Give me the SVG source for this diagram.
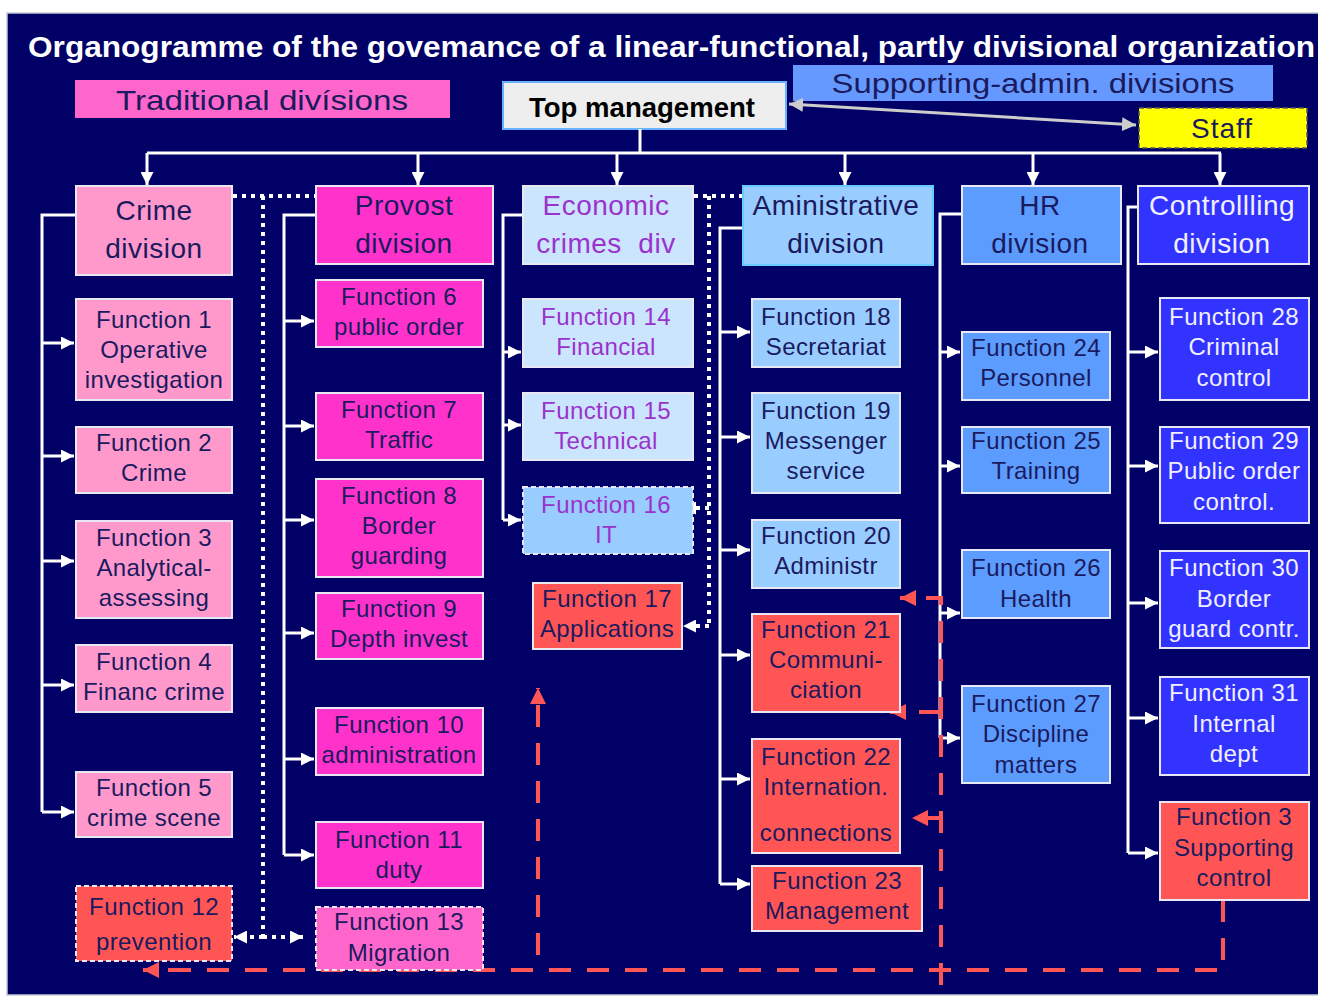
<svg xmlns="http://www.w3.org/2000/svg" width="1318" height="998" viewBox="0 0 1318 998">
<defs>
<style>
.bx{stroke:#E8E8F4;stroke-width:2}
.ds{stroke-dasharray:5 3}
.t{font-family:"Liberation Sans",Arial,sans-serif;font-size:24px;letter-spacing:0.4px;text-anchor:middle;fill:#1a1a5e}
.d{font-size:28px;letter-spacing:0.5px}
.w{fill:#F0F0FF}
.p{fill:#9933CC}
.h{font-family:"Liberation Sans",Arial,sans-serif;font-size:28px;text-anchor:middle;fill:#1a1a5e}
.c{stroke:#fff;stroke-width:3;fill:none}
.ca{stroke:#fff;stroke-width:3;fill:none;marker-end:url(#aw)}
.dot{stroke:#fff;stroke-width:4;stroke-dasharray:4 5;fill:none}
.dota{stroke:#fff;stroke-width:4;stroke-dasharray:4 5;fill:none;marker-end:url(#aw)}
.red{stroke:#FF5555;stroke-width:4;stroke-dasharray:22 16;fill:none}
.reda{stroke:#FF5555;stroke-width:4;stroke-dasharray:22 16;fill:none;marker-end:url(#ar)}
.pink{fill:#FF99CC}.mag{fill:#FF33CC}.mag2{fill:#FF66CC}.lb{fill:#CCE5FF}.mb{fill:#99CCFF}.rd{fill:#FF5555}.hb{fill:#5C9CFF}.cb{fill:#3333FF}
</style>
<marker id="aw" viewBox="0 0 10 10" refX="10" refY="5" markerWidth="13" markerHeight="13" markerUnits="userSpaceOnUse" orient="auto"><path d="M0,0 L10,5 L0,10 z" fill="#fff"/></marker>
<marker id="ar" viewBox="0 0 10 10" refX="10" refY="5" markerWidth="16" markerHeight="16" markerUnits="userSpaceOnUse" orient="auto"><path d="M0,0 L10,5 L0,10 z" fill="#FF5555"/></marker>
<marker id="ag" viewBox="0 0 10 10" refX="10" refY="5" markerWidth="14" markerHeight="14" markerUnits="userSpaceOnUse" orient="auto-start-reverse"><path d="M0,0 L10,5 L0,10 z" fill="#CCCCCC"/></marker>
</defs>
<rect x="0" y="0" width="1318" height="998" fill="#ffffff"/>
<rect x="7" y="13" width="1312" height="982" fill="#000066" stroke="#C8C8D8" stroke-width="1.5"/>
<text x="28" y="57" textLength="1287" lengthAdjust="spacingAndGlyphs" font-family="Liberation Sans, Arial, sans-serif" font-weight="bold" font-size="29" fill="#ffffff">Organogramme of the govemance of a linear-functional, partly divisional organization</text>

<g id="legend-traditional"><rect x="75" y="80" width="375" height="38" fill="#FF66CC"/><text class="h" x="262" y="110" textLength="292" lengthAdjust="spacingAndGlyphs">Traditional divísions</text></g>
<g id="legend-supporting"><rect x="793" y="65" width="480" height="36" fill="#6699FF"/><text class="h" x="1033" y="93" textLength="403" lengthAdjust="spacingAndGlyphs">Supporting-admin. divisions</text></g>
<g id="top-management"><rect x="503" y="82" width="283" height="47" fill="#EEEEEE" stroke="#66B2FF" stroke-width="2"/><text class="h" x="642" y="117" font-weight="bold" fill="#000" style="fill:#000" textLength="226" lengthAdjust="spacingAndGlyphs">Top management</text></g>
<g id="staff"><rect x="1139" y="108" width="168" height="40" fill="#FFFF00" stroke="#555" stroke-width="1.5" stroke-dasharray="5 3"/><text class="h" x="1222" y="138" letter-spacing="1">Staff</text></g>

<g id="connectors">
<path d="M789,104 L1136,125" stroke="#CCCCCC" stroke-width="3" fill="none" marker-start="url(#ag)" marker-end="url(#ag)"/>
<path class="c" d="M640,129 V153 M147,153 H1221"/>
<path class="ca" d="M147,153 V185"/><path class="ca" d="M418,153 V185"/><path class="ca" d="M617,153 V185"/><path class="ca" d="M845,153 V185"/><path class="ca" d="M1033,153 V185"/><path class="ca" d="M1220,153 V185"/>
<path class="c" d="M76,215 H42 V812"/>
<path class="ca" d="M42,343 H74"/><path class="ca" d="M42,456 H74"/><path class="ca" d="M42,561 H74"/><path class="ca" d="M42,685 H74"/><path class="ca" d="M42,812 H74"/>
<path class="c" d="M316,215 H284 V855"/>
<path class="ca" d="M284,321 H314"/><path class="ca" d="M284,426 H314"/><path class="ca" d="M284,520 H314"/><path class="ca" d="M284,633 H314"/><path class="ca" d="M284,759 H314"/><path class="ca" d="M284,855 H314"/>
<path class="c" d="M523,215 H503 V520"/>
<path class="ca" d="M503,352 H521"/><path class="ca" d="M503,425 H521"/><path class="ca" d="M503,520 H521"/>
<path class="c" d="M743,228 H720 V884"/>
<path class="ca" d="M720,332 H750"/><path class="ca" d="M720,437 H750"/><path class="ca" d="M720,550 H750"/><path class="ca" d="M720,655 H750"/><path class="ca" d="M720,779 H750"/><path class="ca" d="M720,884 H750"/>
<path class="c" d="M962,214 H940 V738"/>
<path class="ca" d="M940,352 H960"/><path class="ca" d="M940,466 H960"/><path class="ca" d="M940,613 H960"/><path class="ca" d="M940,738 H960"/>
<path class="c" d="M1138,207 H1128 V853"/>
<path class="ca" d="M1128,352 H1158"/><path class="ca" d="M1128,466 H1158"/><path class="ca" d="M1128,603 H1158"/><path class="ca" d="M1128,718 H1158"/><path class="ca" d="M1128,853 H1158"/>
<path class="dot" d="M233,196 H316 M263,196 V937"/>
<path class="dota" d="M263,937 H234"/><path class="dota" d="M263,937 H303"/>
<path class="dot" d="M694,196 H743 M709,196 V626"/>
<path class="dota" d="M709,508 H683"/><path class="dota" d="M709,626 H683"/>
<path class="red" d="M1223,900 V970 H170"/>
<path class="reda" d="M190,970 H143"/>
<path class="reda" d="M538,955 V688"/>
<path class="reda" d="M941,985 V598 H900"/>
<path class="reda" d="M941,712 H890"/>
<path class="reda" d="M941,818 H912"/>
</g>

<g id="crime-division"><rect class="bx pink" x="76" y="186" width="156" height="89"/><text class="t d" x="154" y="220">Crime</text><text class="t d" x="154" y="258">division</text></g>
<g id="f1"><rect class="bx pink" x="76" y="299" width="156" height="101"/><text class="t" x="154" y="328">Function 1</text><text class="t" x="154" y="358">Operative</text><text class="t" x="154" y="388">investigation</text></g>
<g id="f2"><rect class="bx pink" x="76" y="427" width="156" height="66"/><text class="t" x="154" y="451">Function 2</text><text class="t" x="154" y="481">Crime</text></g>
<g id="f3"><rect class="bx pink" x="76" y="521" width="156" height="97"/><text class="t" x="154" y="546">Function 3</text><text class="t" x="154" y="576">Analytical-</text><text class="t" x="154" y="606">assessing</text></g>
<g id="f4"><rect class="bx pink" x="76" y="645" width="156" height="67"/><text class="t" x="154" y="670">Function 4</text><text class="t" x="154" y="700">Financ crime</text></g>
<g id="f5"><rect class="bx pink" x="76" y="772" width="156" height="65"/><text class="t" x="154" y="796">Function 5</text><text class="t" x="154" y="826">crime scene</text></g>
<g id="f12"><rect class="bx ds rd" x="76" y="886" width="156" height="75"/><text class="t" x="154" y="915">Function 12</text><text class="t" x="154" y="950">prevention</text></g>

<g id="provost-division"><rect class="bx mag" x="316" y="186" width="177" height="78"/><text class="t d" x="404" y="215">Provost</text><text class="t d" x="404" y="253">division</text></g>
<g id="f6"><rect class="bx mag" x="316" y="280" width="167" height="67"/><text class="t" x="399" y="305">Function 6</text><text class="t" x="399" y="335">public order</text></g>
<g id="f7"><rect class="bx mag" x="316" y="393" width="167" height="67"/><text class="t" x="399" y="418">Function 7</text><text class="t" x="399" y="448">Traffic</text></g>
<g id="f8"><rect class="bx mag" x="316" y="479" width="167" height="98"/><text class="t" x="399" y="504">Function 8</text><text class="t" x="399" y="534">Border</text><text class="t" x="399" y="564">guarding</text></g>
<g id="f9"><rect class="bx mag" x="316" y="593" width="167" height="66"/><text class="t" x="399" y="617">Function 9</text><text class="t" x="399" y="647">Depth invest</text></g>
<g id="f10"><rect class="bx mag" x="316" y="708" width="167" height="67"/><text class="t" x="399" y="733">Function 10</text><text class="t" x="399" y="763">administration</text></g>
<g id="f11"><rect class="bx mag" x="316" y="822" width="167" height="66"/><text class="t" x="399" y="848">Function 11</text><text class="t" x="399" y="878">duty</text></g>
<g id="f13"><rect class="bx ds mag2" x="316" y="907" width="167" height="63"/><text class="t" x="399" y="930">Function 13</text><text class="t" x="399" y="961">Migration</text></g>

<g id="economic-division"><rect class="bx lb" x="523" y="186" width="170" height="78"/><text class="t d p" x="606" y="215">Economic</text><text class="t d p" x="606" y="253" xml:space="preserve">crimes  div</text></g>
<g id="f14"><rect class="bx lb" x="523" y="299" width="170" height="68"/><text class="t p" x="606" y="325">Function 14</text><text class="t p" x="606" y="355">Financial</text></g>
<g id="f15"><rect class="bx lb" x="523" y="393" width="170" height="67"/><text class="t p" x="606" y="419">Function 15</text><text class="t p" x="606" y="449">Technical</text></g>
<g id="f16"><rect class="bx ds mb" x="523" y="487" width="170" height="67"/><text class="t p" x="606" y="513">Function 16</text><text class="t p" x="606" y="543">IT</text></g>
<g id="f17"><rect class="bx rd" x="533" y="583" width="149" height="66"/><text class="t" x="607" y="607">Function 17</text><text class="t" x="607" y="637">Applications</text></g>

<g id="administrative-division"><rect class="mb" x="743" y="186" width="190" height="79" stroke="#66CCFF" stroke-width="2"/><text class="t d" x="836" y="215">Aministrative</text><text class="t d" x="836" y="253">division</text></g>
<g id="f18"><rect class="bx mb" x="752" y="299" width="148" height="68"/><text class="t" x="826" y="325">Function 18</text><text class="t" x="826" y="355">Secretariat</text></g>
<g id="f19"><rect class="bx mb" x="752" y="393" width="148" height="100"/><text class="t" x="826" y="419">Function 19</text><text class="t" x="826" y="449">Messenger</text><text class="t" x="826" y="479">service</text></g>
<g id="f20"><rect class="bx mb" x="752" y="520" width="148" height="68"/><text class="t" x="826" y="544">Function 20</text><text class="t" x="826" y="574">Administr</text></g>
<g id="f21"><rect class="bx rd" x="752" y="614" width="148" height="98"/><text class="t" x="826" y="638">Function 21</text><text class="t" x="826" y="668">Communi-</text><text class="t" x="826" y="698">ciation</text></g>
<g id="f22"><rect class="bx rd" x="752" y="739" width="148" height="114"/><text class="t" x="826" y="765">Function 22</text><text class="t" x="826" y="795">Internation.</text><text class="t" x="826" y="841">connections</text></g>
<g id="f23"><rect class="bx rd" x="752" y="866" width="170" height="65"/><text class="t" x="837" y="889">Function 23</text><text class="t" x="837" y="919">Management</text></g>

<g id="hr-division"><rect class="bx hb" x="962" y="186" width="159" height="78"/><text class="t d" x="1040" y="215">HR</text><text class="t d" x="1040" y="253">division</text></g>
<g id="f24"><rect class="bx hb" x="962" y="332" width="148" height="68"/><text class="t" x="1036" y="356">Function 24</text><text class="t" x="1036" y="386">Personnel</text></g>
<g id="f25"><rect class="bx hb" x="962" y="427" width="148" height="66"/><text class="t" x="1036" y="449">Function 25</text><text class="t" x="1036" y="479">Training</text></g>
<g id="f26"><rect class="bx hb" x="962" y="550" width="148" height="68"/><text class="t" x="1036" y="576">Function 26</text><text class="t" x="1036" y="607">Health</text></g>
<g id="f27"><rect class="bx hb" x="962" y="686" width="148" height="97"/><text class="t" x="1036" y="712">Function 27</text><text class="t" x="1036" y="742">Discipline</text><text class="t" x="1036" y="773">matters</text></g>

<g id="controlling-division"><rect class="bx cb" x="1138" y="186" width="171" height="78"/><text class="t d w" x="1222" y="215">Controllling</text><text class="t d w" x="1222" y="253">division</text></g>
<g id="f28"><rect class="bx cb" x="1160" y="298" width="149" height="102"/><text class="t w" x="1234" y="325">Function 28</text><text class="t w" x="1234" y="355">Criminal</text><text class="t w" x="1234" y="386">control</text></g>
<g id="f29"><rect class="bx cb" x="1160" y="427" width="149" height="96"/><text class="t w" x="1234" y="449">Function 29</text><text class="t w" x="1234" y="479">Public order</text><text class="t w" x="1234" y="510">control.</text></g>
<g id="f30"><rect class="bx cb" x="1160" y="551" width="149" height="97"/><text class="t w" x="1234" y="576">Function 30</text><text class="t w" x="1234" y="607">Border</text><text class="t w" x="1234" y="637">guard contr.</text></g>
<g id="f31"><rect class="bx cb" x="1160" y="677" width="149" height="98"/><text class="t w" x="1234" y="701">Function 31</text><text class="t w" x="1234" y="732">Internal</text><text class="t w" x="1234" y="762">dept</text></g>
<g id="f3-supporting"><rect class="bx rd" x="1160" y="802" width="149" height="98"/><text class="t" x="1234" y="825">Function 3</text><text class="t" x="1234" y="856">Supporting</text><text class="t" x="1234" y="886">control</text></g>
</svg>
